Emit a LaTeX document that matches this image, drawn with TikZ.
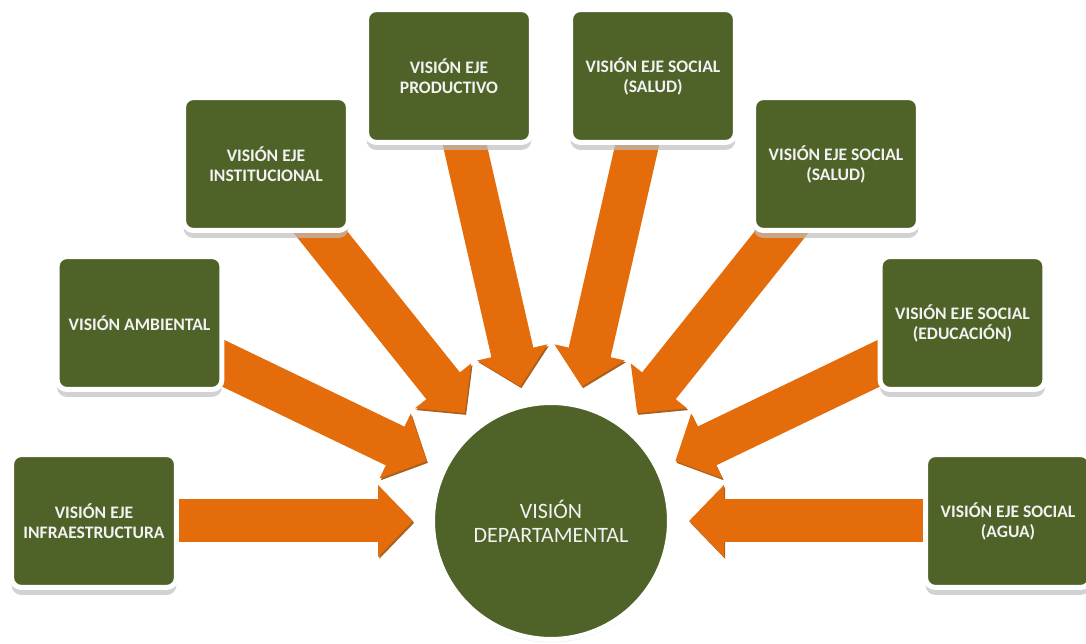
\documentclass[tikz,border=0pt]{standalone}
\usepackage{fontspec}
\setmainfont{Carlito}
\usetikzlibrary{arrows.meta,shadows}
\definecolor{olivegreen}{HTML}{4F6228}
\definecolor{arroworange}{HTML}{E46C0A}
\definecolor{arrowshade}{HTML}{A8601E}
\pgfdeclarelayer{background}
\pgfsetlayers{background,main}

\begin{document}
\begin{tikzpicture}[x=0.02cm, y=-0.02cm,
  every node/.style={text=white!95!black, align=center},
  vision/.style={draw=white, line width=0.1cm, fill=olivegreen, rounded corners=0.2cm,
    minimum width=3.3cm, minimum height=2.66cm,
    drop shadow={shadow xshift=0cm, shadow yshift=-0.15cm, fill=black!25, opacity=0.7},
    font=\fontsize{10}{11.4}\selectfont\bfseries},
  hub/.style={circle, draw=white, line width=0.1cm, fill=olivegreen, minimum size=4.74cm,
    drop shadow={shadow xshift=0cm, shadow yshift=-0.06cm, fill=black!15, opacity=0.6},
    font=\fontsize{12.5}{13.8}\selectfont},
  bigarrow/.style={draw=arroworange, line width=0.86cm, -{Triangle[length=0.7cm,width=1.4cm]},
    shorten >=0.34cm,
    preaction={draw=arrowshade, transform canvas={shift={(0.7pt,-1pt)}}}}]
  \useasboundingbox (0,0) rectangle (1086,644);
  \node[hub] (depto) at (551,521) {VISIÓN\\DEPARTAMENTAL};
  \node[vision] (infra) at (94,521) {VISIÓN EJE\\INFRAESTRUCTURA};
  \node[vision] (ambiental) at (139.5,323) {VISIÓN AMBIENTAL};
  \node[vision] (institucional) at (266,164) {VISIÓN EJE\\INSTITUCIONAL};
  \node[vision] (productivo) at (449,76) {VISIÓN EJE\\PRODUCTIVO};
  \node[vision] (saludA) at (653,76) {VISIÓN EJE SOCIAL\\(SALUD)};
  \node[vision] (saludB) at (836,164) {VISIÓN EJE SOCIAL\\(SALUD)};
  \node[vision] (educacion) at (962.5,323) {VISIÓN EJE SOCIAL\\(EDUCACIÓN)};
  \node[vision] (agua) at (1008,521) {VISIÓN EJE SOCIAL\\(AGUA)};
  \begin{pgfonlayer}{background}
    \foreach \src in {infra,ambiental,institucional,productivo,saludA,saludB,educacion,agua}
      \draw[bigarrow] (\src.center) -- (depto);
  \end{pgfonlayer}
\end{tikzpicture}
\end{document}
